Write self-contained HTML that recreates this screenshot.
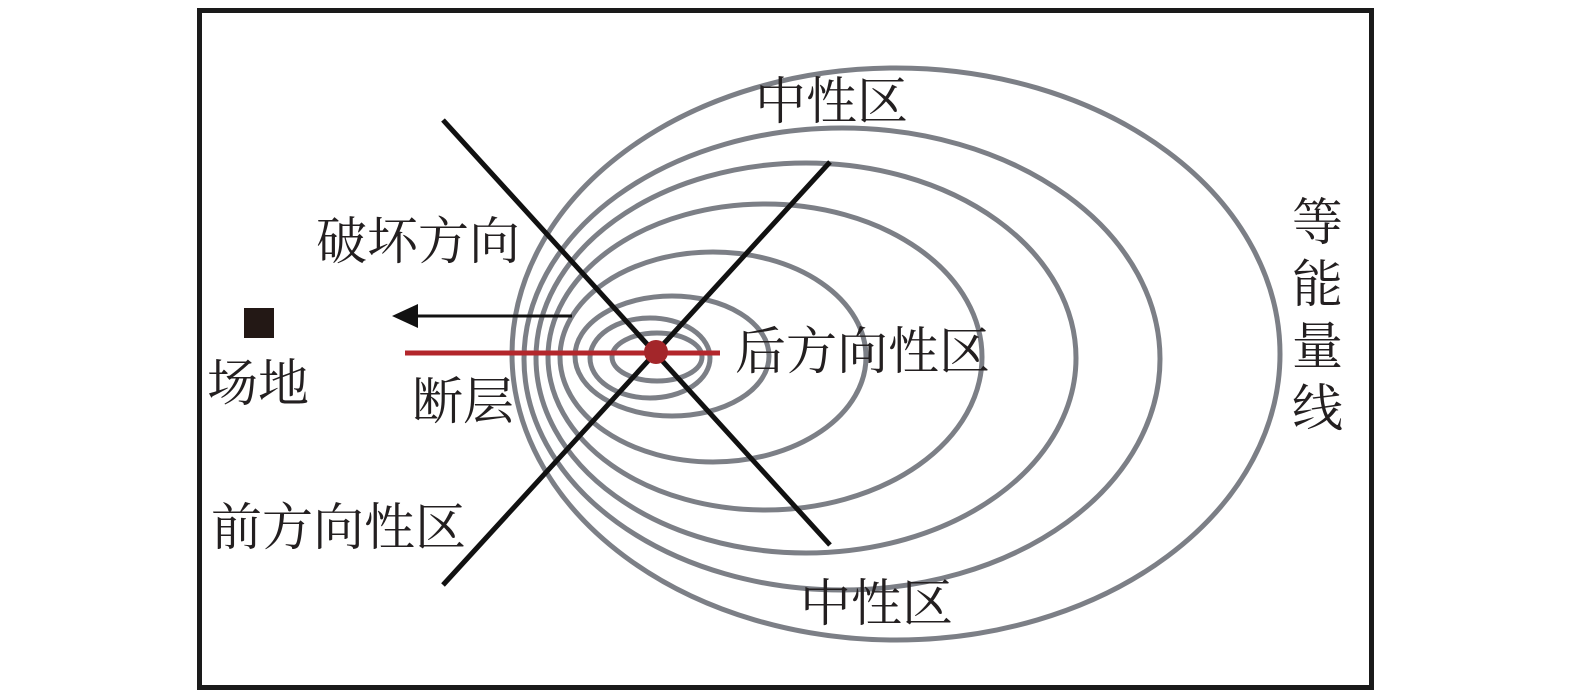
<!DOCTYPE html>
<html><head><meta charset="utf-8"><style>
html,body{margin:0;padding:0;background:#fff;}
svg{display:block;}
text{font-family:"Liberation Serif","Noto Serif CJK SC",serif;font-size:51px;fill:#231f20;}
</style></head><body>
<svg width="1575" height="697" viewBox="0 0 1575 697" xmlns="http://www.w3.org/2000/svg">
<rect x="0" y="0" width="1575" height="697" fill="#fff"/>
<rect x="199.5" y="10.5" width="1172" height="677" fill="none" stroke="#1a1a1a" stroke-width="5"/>
<g fill="none" stroke="#7c7f86" stroke-width="5">
<ellipse cx="896" cy="354" rx="384" ry="286"/>
<ellipse cx="842" cy="359" rx="318" ry="231"/>
<ellipse cx="806" cy="358" rx="270" ry="195"/>
<ellipse cx="765" cy="357" rx="217" ry="153"/>
<ellipse cx="713" cy="357" rx="153" ry="105"/>
<ellipse cx="672" cy="356" rx="97" ry="60"/>
<ellipse cx="650" cy="358" rx="60" ry="40"/>
<ellipse cx="657" cy="357" rx="45" ry="24"/>
</g>
<g stroke="#111" stroke-width="5" fill="none">
<line x1="443" y1="120" x2="830" y2="545"/>
<line x1="830" y1="162" x2="443" y2="585"/>
</g>
<line x1="410" y1="316" x2="572" y2="316" stroke="#111" stroke-width="3"/>
<polygon points="392,316 418,304 418,328" fill="#111"/>
<line x1="405" y1="353" x2="720" y2="353" stroke="#b3262b" stroke-width="5"/>
<circle cx="656" cy="352" r="12" fill="#a3262a"/>
<rect x="244" y="308" width="30" height="30" fill="#231815"/>
<text x="316" y="259">破坏方向</text>
<text x="207" y="401">场地</text>
<text x="412" y="419">断层</text>
<text x="211" y="545">前方向性区</text>
<text x="735" y="369">后方向性区</text>
<text x="755" y="119">中性区</text>
<text x="800" y="621">中性区</text>
<text x="1292" y="240">等</text>
<text x="1292" y="302">能</text>
<text x="1292" y="364">量</text>
<text x="1292" y="426">线</text>
</svg>
</body></html>
